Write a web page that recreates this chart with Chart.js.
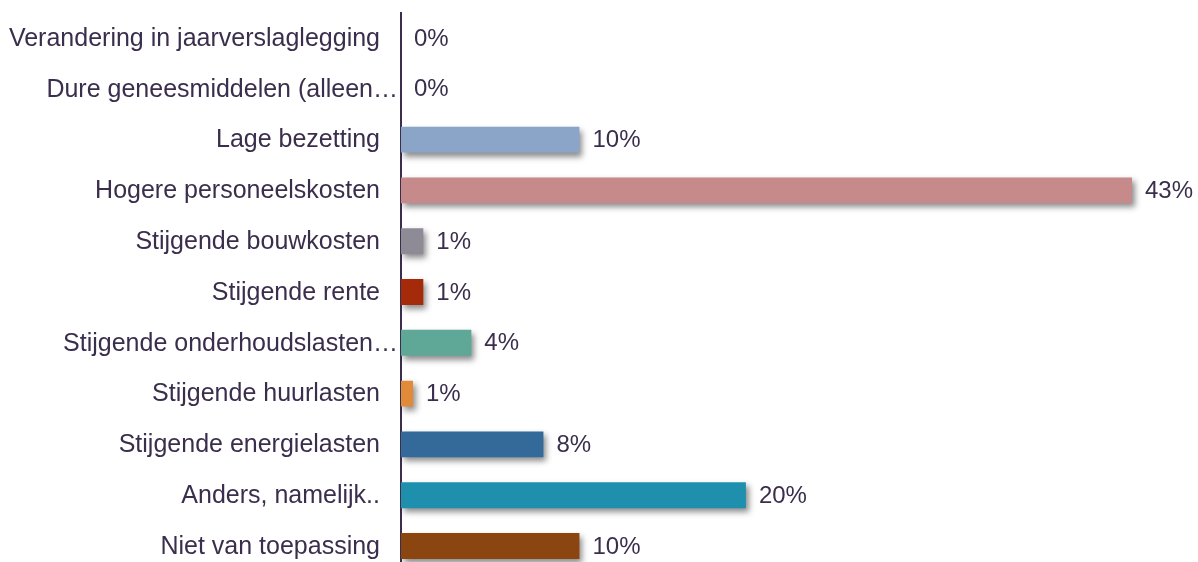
<!DOCTYPE html>
<html>
<head>
<meta charset="utf-8">
<script src="https://cdn.jsdelivr.net/npm/chart.js@4"></script>
<style>
  html, body { margin: 0; padding: 0; background: #fff; overflow: hidden; }
</style>
</head>
<body>
<canvas id="bar-chart" width="1198" height="575"></canvas>
<script>
// categories top to bottom
const categories = [
    'Verandering in jaarverslaglegging',
    'Dure geneesmiddelen (alleen…',
    'Lage bezetting',
    'Hogere personeelskosten',
    'Stijgende bouwkosten',
    'Stijgende rente',
    'Stijgende onderhoudslasten…',
    'Stijgende huurlasten',
    'Stijgende energielasten',
    'Anders, namelijk..',
    'Niet van toepassing'
]
// percentages
const values = [0, 0, 10.4, 42.6, 1.3, 1.3, 4.1, 0.7, 8.3, 20.1, 10.4]
const barColors = [
    '#8aa5c8', '#8aa5c8', '#8aa5c8', '#c78a8a', '#8e8b96', '#a52a0a',
    '#5fa898', '#e08a3a', '#336a9a', '#1f8fae', '#8b4510'
]
const textColor = '#3b2e4d'
const fontFamily = '"Liberation Sans", Arial, sans-serif'

// drop shadow under the bars
const shadowPlugin = {
    id: 'barShadow',
    beforeDatasetDraw(chart) {
        const c = chart.ctx
        c.save()
        c.shadowColor = 'rgba(0,0,0,0.45)'
        c.shadowBlur = 6
        c.shadowOffsetX = 3
        c.shadowOffsetY = 4
    },
    afterDatasetDraw(chart) {
        chart.ctx.restore()
    }
}

// category names; cut-off names run right up to the axis like in the original
const categoryLabels = {
    id: 'categoryLabels',
    afterDraw(chart) {
        const c = chart.ctx
        const yScale = chart.scales.y
        const left = chart.chartArea.left
        c.save()
        c.font = '25px ' + fontFamily
        c.fillStyle = textColor
        c.textBaseline = 'middle'
        c.textAlign = 'right'
        categories.forEach((name, i) => {
            const gap = name.endsWith('…') ? 3 : 21
            c.fillText(name, left - gap, yScale.getPixelForTick(i) + 1)
        })
        c.restore()
    }
}

// percentage text after each bar
const valueLabels = {
    id: 'valueLabels',
    afterDatasetsDraw(chart) {
        const c = chart.ctx
        const meta = chart.getDatasetMeta(0)
        c.save()
        c.font = '24px ' + fontFamily
        c.fillStyle = textColor
        c.textBaseline = 'middle'
        c.textAlign = 'left'
        meta.data.forEach((bar, i) => {
            c.fillText(Math.round(values[i]) + '%', bar.x + 13, bar.y + 1)
        })
        c.restore()
    }
}

const ctx = document.querySelector('#bar-chart').getContext('2d')
new Chart(ctx, {
    type: 'bar',
    data: {
        labels: categories,
        datasets: [{
            data: values,
            backgroundColor: barColors,
            barPercentage: 0.51,
            categoryPercentage: 1
        }]
    },
    options: {
        indexAxis: 'y',
        responsive: false,
        animation: false,
        layout: { padding: { top: 12.6, right: 42, bottom: 3.6, left: 0 } },
        plugins: { legend: { display: false }, tooltip: { enabled: false } },
        scales: {
            x: { display: false, min: 0, max: 44 },
            y: {
                afterFit: (s) => {
                    s.width = 401
                    s.paddingTop = 0
                    s.paddingBottom = 0
                },
                grid: { display: false },
                border: { display: true, color: textColor, width: 2 },
                ticks: { display: false }
            }
        }
    },
    plugins: [shadowPlugin, categoryLabels, valueLabels]
})
</script>
</body>
</html>
